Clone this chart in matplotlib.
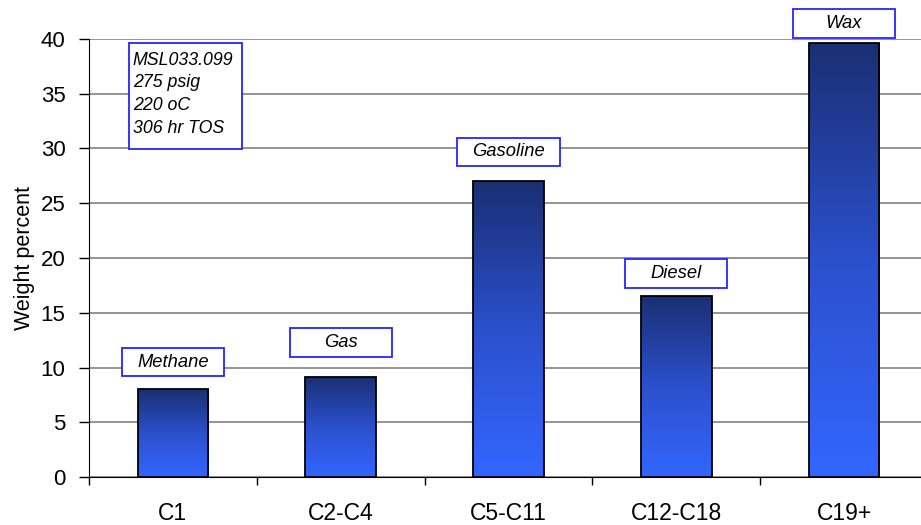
import numpy as np
import matplotlib
matplotlib.use("Agg")
import matplotlib.pyplot as plt
from matplotlib.patches import Rectangle
from matplotlib.colors import LinearSegmentedColormap

plt.rcParams["font.family"] = ["Liberation Sans", "DejaVu Sans"]

# Product distribution by carbon number
categories = ["C1", "C2-C4", "C5-C11", "C12-C18", "C19+"]
weight_pct = [8.0, 9.1, 27.0, 16.5, 39.6]
product_names = ["Methane", "Gas", "Gasoline", "Diesel", "Wax"]
y_ticks = [0, 5, 10, 15, 20, 25, 30, 35, 40]
run_info = ["MSL033.099", "275 psig", "220 oC", "306 hr TOS"]

# Height (data units) of the centre of each product label box
label_y = [10.5, 12.3, 29.7, 18.6, 41.4]

fig = plt.figure(figsize=(9.21, 5.25), dpi=100)
ax = fig.add_axes([89 / 921, 48 / 525, (928 - 89) / 921, 438 / 525])

x = np.arange(len(categories))
bar_w = 0.42

# Vertical gradient: dark navy on top fading to bright blue at the base
grad_cmap = LinearSegmentedColormap.from_list("bar_grad", ["#3366ff", "#2b50cc", "#1a2f73"])
grad = np.linspace(0, 1, 256).reshape(-1, 1)
for xi, v in zip(x, weight_pct):
    ax.imshow(grad, extent=[xi - bar_w / 2, xi + bar_w / 2, 0, v], origin="lower",
              aspect="auto", cmap=grad_cmap, zorder=2.5, interpolation="bilinear")
ax.bar(x, weight_pct, width=bar_w, facecolor="none", edgecolor="black",
       linewidth=1.3, zorder=3)

# Product label boxes above each bar
box_w, box_h = 0.61, 2.6
for xi, name, ly in zip(x, product_names, label_y):
    ax.add_patch(Rectangle((xi - box_w / 2, ly - box_h / 2), box_w, box_h,
                           facecolor="white", edgecolor="#2424ff", linewidth=1.3,
                           clip_on=False, zorder=4))
    ax.text(xi, ly, name, ha="center", va="center", fontsize=13.2, style="italic",
            color="black", zorder=5, clip_on=False)

# Run conditions box
ax.add_patch(Rectangle((-0.262, 29.95), 0.675, 9.68, facecolor="white",
                       edgecolor="#2424ff", linewidth=1.3, zorder=4))
ax.text(-0.24, 34.95, "\n".join(run_info), ha="left", va="center", fontsize=12.8,
        style="italic", linespacing=1.45, zorder=5)

ax.set_xlim(-0.5, len(categories) - 0.5)
ax.set_ylim(0, 40)
ax.set_yticks(y_ticks)
ax.tick_params(axis="y", labelsize=16, length=7, width=1, pad=10, direction="out")
ax.yaxis.grid(True, color="#767676", linewidth=1.1, zorder=1)
ax.set_axisbelow(True)

# Tick marks sit between categories; labels sit at category centres
ax.set_xticks(np.arange(-0.5, len(categories) + 0.5, 1.0))
ax.set_xticklabels([])
ax.set_xticks(x, minor=True)
ax.set_xticklabels(categories, minor=True)
ax.tick_params(axis="x", which="major", length=6, width=1, direction="out")
ax.tick_params(axis="x", which="minor", length=0, labelsize=16.5, pad=18)

ax.set_ylabel("Weight percent", fontsize=15.5, labelpad=4)

for side in ("top", "right"):
    ax.spines[side].set_visible(False)
ax.spines["left"].set_color("black")
ax.spines["bottom"].set_color("black")

fig.savefig("out.png", dpi=100)
